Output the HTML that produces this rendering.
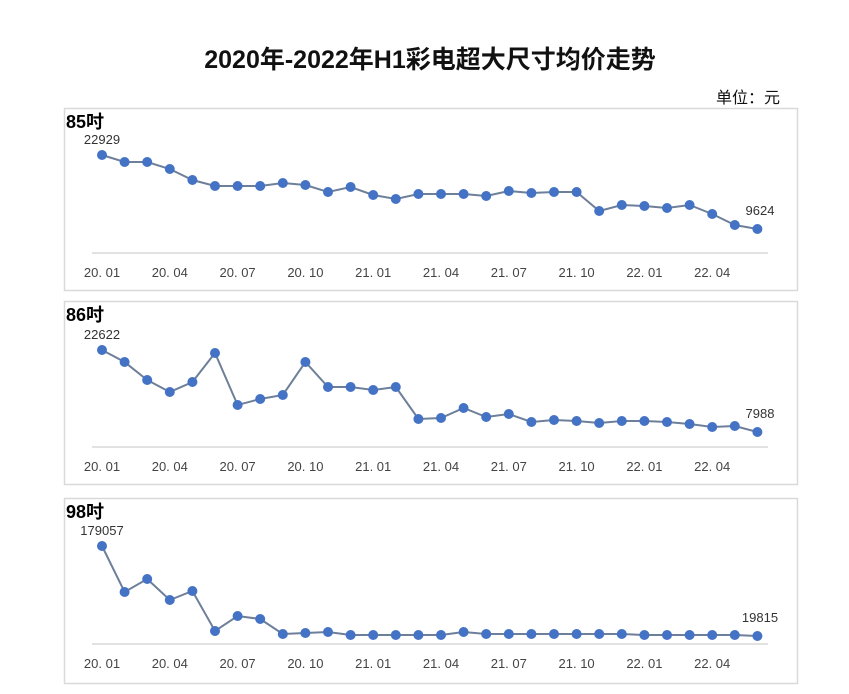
<!DOCTYPE html>
<html><head><meta charset="utf-8"><style>
html,body{margin:0;padding:0;background:#fff;}
svg{display:block;font-family:"Liberation Sans","Noto Sans CJK SC",sans-serif;}
</style></head><body>
<svg id="s" width="849" height="694" viewBox="0 0 849 694" xmlns="http://www.w3.org/2000/svg">
<text x="430" y="68" text-anchor="middle" font-size="25" font-weight="bold" fill="#111">2020年-2022年H1彩电超大尺寸均价走势</text>
<text x="780" y="103" text-anchor="end" font-size="16" fill="#111">单位：元</text>
</svg>
<script>
var s=document.getElementById('s'),NS='http://www.w3.org/2000/svg';
function el(t,a,txt){var e=document.createElementNS(NS,t);for(var k in a)e.setAttribute(k,a[k]);if(txt)e.textContent=txt;s.appendChild(e);return e;}
var P=[
{top:108,bot:290,axis:253,lab:'85吋',first:'22929',last:'9624',
 y:[155,162,162,169,180,186,186,186,183,185,192,187,195,199,194,194,194,196,191,193,192,192,211,205,206,208,205,214,225,229]},
{top:301,bot:484,axis:447,lab:'86吋',first:'22622',last:'7988',
 y:[350,362,380,392,382,353,405,399,395,362,387,387,390,387,419,418,408,417,414,422,420,421,423,421,421,422,424,427,426,432]},
{top:498,bot:683,axis:644,lab:'98吋',first:'179057',last:'19815',
 y:[546,592,579,600,591,631,616,619,634,633,632,635,635,635,635,635,632,634,634,634,634,634,634,634,635,635,635,635,635,636]}];
var ticks=['20.01','20.04','20.07','20.10','21.01','21.04','21.07','21.10','22.01','22.04'];
P.forEach(function(p){
 el('rect',{x:64.5,y:p.top+.5,width:733,height:p.bot-p.top,fill:'#fff',stroke:'#d9d9d9','stroke-width':1.5});
 el('line',{x1:92,x2:768,y1:p.axis,y2:p.axis,stroke:'#d9d9d9','stroke-width':1.5});
 el('text',{x:66,y:p.top+20,'font-size':18,'font-weight':'bold',fill:'#000'},p.lab);
 var pts=p.y.map(function(v,i){return [102+i*22.6,v];});
 el('polyline',{points:pts.map(function(q){return q.join(',')}).join(' '),fill:'none',stroke:'#6e7f99','stroke-width':2});
 pts.forEach(function(q){el('circle',{cx:q[0],cy:q[1],r:5,fill:'#4472c4'});});
 el('text',{x:102,y:p.y[0]-11,'text-anchor':'middle','font-size':13,fill:'#333'},p.first);
 el('text',{x:760,y:p.y[29]-14,'text-anchor':'middle','font-size':13,fill:'#333'},p.last);
 ticks.forEach(function(t,i){el('text',{x:102+i*3*22.6,y:p.axis+24,'text-anchor':'middle','font-size':13,fill:'#444'},t.replace('.','. '));});
});
</script>
</body></html>
